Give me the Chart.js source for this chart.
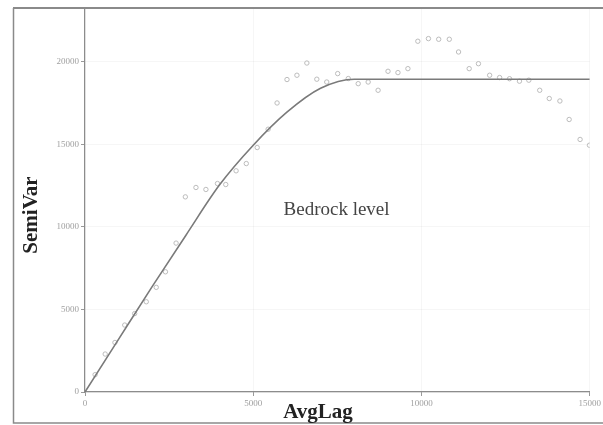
<!DOCTYPE html>
<html>
<head>
<meta charset="utf-8">
<script src="https://cdn.jsdelivr.net/npm/chart.js@4"></script>
<style>
  html, body { margin: 0; padding: 0; background: #fff; }
  canvas { display: block; }
</style>
</head>
<body>
<canvas id="chart" width="603" height="425"></canvas>
<script>
// ── Data ──────────────────────────────────────────
const lags = [300, 600, 890, 1181, 1476, 1821, 2117, 2391, 2707, 2982,
  3297, 3593, 3937, 4183, 4490, 4793, 5117, 5442, 5708, 6003,
  6298, 6593, 6889, 7184, 7509, 7824, 8119, 8415, 8710, 9005,
  9300, 9596, 9891, 10206, 10511, 10826, 11101, 11417, 11692, 12025,
  12321, 12616, 12911, 13189, 13513, 13797, 14113, 14388, 14713, 14990];
const semiVars = [1050, 2300, 3000, 4056, 4750, 5466, 6340, 7282, 9020, 11822,
  12390, 12270, 12630, 12570, 13400, 13840, 14810, 15920, 17510, 18930,
  19190, 19930, 18950, 18780, 19290, 18990, 18680, 18780, 18280, 19430,
  19350, 19590, 21250, 21410, 21370, 21370, 20600, 19590, 19890, 19190,
  19050, 18980, 18830, 18890, 18280, 17780, 17630, 16510, 15300, 14950];

// fitted model curve
const modelLags = [0, 1000, 2000, 3000, 4000, 5000, 6000, 7000, 8000, 15000];
const modelSemi = [0, 3200, 6400, 9500, 12550, 14950, 16950, 18400, 18950, 18950];

const xTicks = [0, 5000, 10000, 15000];
const yTicks = [0, 5000, 10000, 15000, 20000];

const pts = lags.map((x, i) => ({ x: x, y: semiVars[i] }));
const model = modelLags.map((x, i) => ({ x: x, y: modelSemi[i] }));

// ── Decorations: frame, axis titles, annotation ───
const decor = {
  id: 'decor',
  beforeDraw(chart) {
    const ctx = chart.ctx;
    ctx.save();
    ctx.fillStyle = '#fff';
    ctx.fillRect(0, 0, chart.width, chart.height);
    ctx.restore();
  },
  afterDraw(chart) {
    const ctx = chart.ctx;
    const xs = chart.scales.x, ys = chart.scales.y;
    ctx.save();
    // outer frame
    ctx.strokeStyle = '#8a8a8a';
    ctx.lineWidth = 2;
    ctx.beginPath();
    ctx.moveTo(13, 8); ctx.lineTo(603, 8);
    ctx.stroke();
    ctx.lineWidth = 1.5;
    ctx.beginPath();
    ctx.moveTo(13.5, 8); ctx.lineTo(13.5, 423); ctx.lineTo(603, 423);
    ctx.stroke();

    // axis titles
    ctx.fillStyle = '#222';
    ctx.font = 'bold 21px "Liberation Serif", serif';
    ctx.textAlign = 'center';
    ctx.textBaseline = 'alphabetic';
    ctx.fillText('AvgLag', 318, 418);
    ctx.translate(37, 215);
    ctx.rotate(-Math.PI / 2);
    ctx.fillText('SemiVar', 0, 0);
    ctx.setTransform(1, 0, 0, 1, 0, 0);

    // annotation
    ctx.fillStyle = '#444';
    ctx.font = '19px "Liberation Serif", serif';
    ctx.textAlign = 'left';
    ctx.fillText('Bedrock level', xs.getPixelForValue(5900), ys.getPixelForValue(10720));
    ctx.restore();
  }
};

// ── Chart ─────────────────────────────────────────
const plain = v => String(v);

const ctx = document.getElementById('chart').getContext('2d');
new Chart(ctx, {
  type: 'scatter',
  data: {
    datasets: [
      {
        data: model,
        showLine: true,
        pointRadius: 0,
        borderColor: '#7a7a7a',
        borderWidth: 1.6,
        cubicInterpolationMode: 'monotone',
        order: 1
      },
      {
        data: pts,
        pointRadius: 2.2,
        borderWidth: 1,
        borderColor: '#bdbdbd',
        backgroundColor: 'rgba(255,255,255,0)',
        order: 2
      }
    ]
  },
  options: {
    responsive: false,
    animation: false,
    layout: { padding: { top: 7, right: 10, left: 0, bottom: 0 } },
    plugins: { legend: { display: false }, tooltip: { enabled: false } },
    scales: {
      x: {
        type: 'linear',
        min: 0,
        max: 15000,
        afterBuildTicks: s => { s.ticks = xTicks.map(v => ({ value: v })); },
        afterFit: s => { s.height = 33; },
        ticks: {
          color: '#a0a0a0',
          font: { family: '"Liberation Serif", serif', size: 9 },
          padding: 2,
          maxRotation: 0,
          autoSkip: false,
          callback: plain
        },
        grid: { color: 'rgba(0,0,0,0.035)', tickColor: '#999', tickLength: 4 },
        border: { color: '#8c8c8c', width: 1.2 }
      },
      y: {
        min: 0,
        max: 23300,
        afterBuildTicks: s => { s.ticks = yTicks.map(v => ({ value: v })); },
        afterFit: s => { s.width = 85; },
        ticks: {
          color: '#a0a0a0',
          font: { family: '"Liberation Serif", serif', size: 9 },
          padding: 2,
          autoSkip: false,
          callback: plain
        },
        grid: { color: 'rgba(0,0,0,0.035)', tickColor: '#999', tickLength: 4 },
        border: { color: '#8c8c8c', width: 1.2 }
      }
    }
  },
  plugins: [decor]
});
</script>
</body>
</html>
